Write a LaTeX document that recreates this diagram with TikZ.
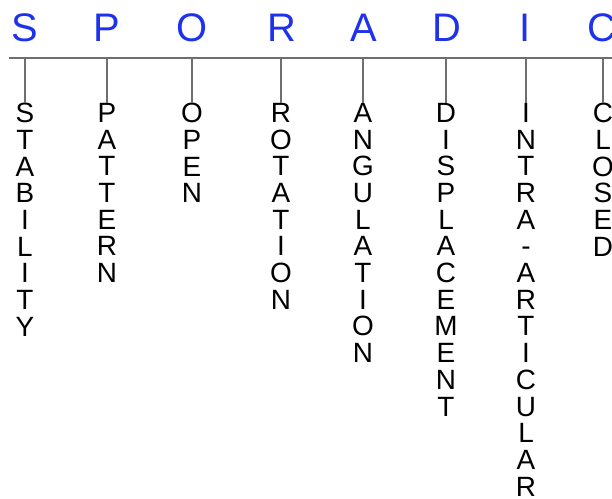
\documentclass[tikz,border=0pt]{standalone}
\usepackage{fontspec}
\setmainfont{Liberation Sans}
\definecolor{spblue}{RGB}{30,50,235}
\definecolor{bargray}{RGB}{110,110,110}
\begin{document}
\begin{tikzpicture}[x=1bp,y=-1bp,
  head/.style={text=spblue,font=\fontsize{40}{40}\selectfont,anchor=base,inner sep=0pt},
  word/.style={font=\fontsize{28}{26.8}\selectfont,align=center,anchor=north,inner sep=0pt},
  bar/.style={draw=bargray,line width=1.6bp},
  stem/.style={draw=bargray,line width=1.2bp}]
\useasboundingbox (0,0) rectangle (612,499);
% headline letters
\node[head] (h1) at (25,42) {S};
\node[head] (h2) at (107,42) {P};
\node[head] (h3) at (192,42) {O};
\node[head] (h4) at (282,42) {R};
\node[head] (h5) at (364,42) {A};
\node[head] (h6) at (447,42) {D};
\node[head] (h7) at (525,42) {I};
\node[head] (h8) at (602,42) {C};
% bar
\coordinate (barL) at (9,58);
\coordinate (barR) at (612,58);
\draw[bar] (barL) -- (barR);
% words
\node[word] (w1) at (25,103) {S\\T\\A\\B\\I\\L\\I\\T\\Y};
\node[word] (w2) at (107,103) {P\\A\\T\\T\\E\\R\\N};
\node[word] (w3) at (192,103) {O\\P\\E\\N};
\node[word] (w4) at (281,103) {R\\O\\T\\A\\T\\I\\O\\N};
\node[word] (w5) at (363,103) {A\\N\\G\\U\\L\\A\\T\\I\\O\\N};
\node[word] (w6) at (446,103) {D\\I\\S\\P\\L\\A\\C\\E\\M\\E\\N\\T};
\node[word] (w7) at (526,103) {I\\N\\T\\R\\A\\-\\A\\R\\T\\I\\C\\U\\L\\A\\R};
\node[word] (w8) at (603,103) {C\\L\\O\\S\\E\\D};
% stems
\foreach \i/\x in {1/25,2/107,3/192,4/281,5/363,6/446,7/526,8/603}{
  \coordinate (b\i) at (\x,58);
  \draw[stem] (b\i) -- (w\i.north);
}
\end{tikzpicture}
\end{document}
